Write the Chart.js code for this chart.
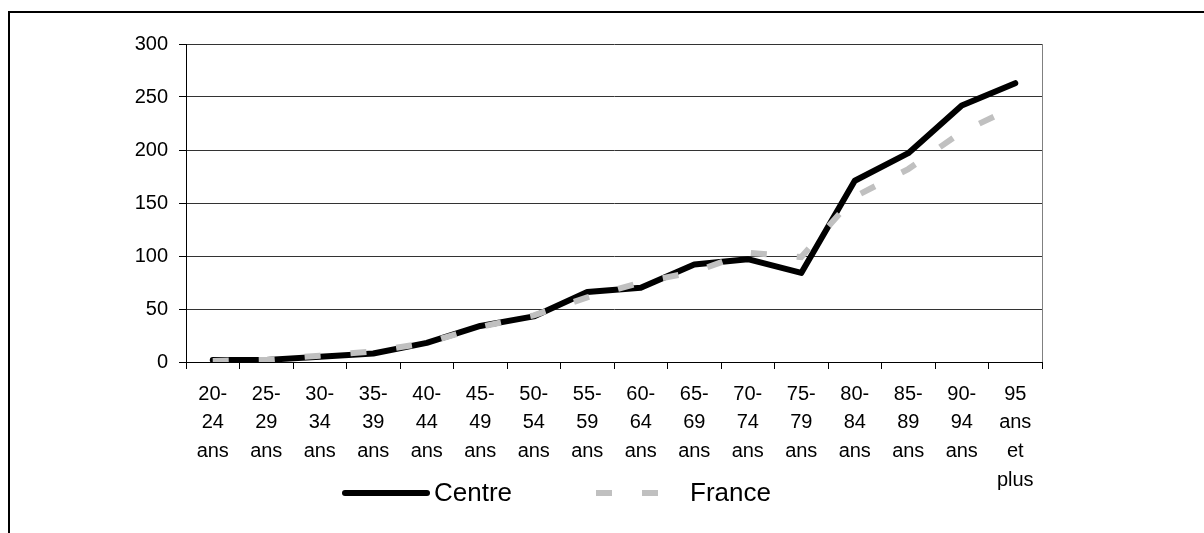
<!DOCTYPE html>
<html>
<head>
<meta charset="utf-8">
<script src="https://cdn.jsdelivr.net/npm/chart.js@4"></script>
<style>
  html, body { margin: 0; padding: 0; background: #fff; }
  #wrap { position: relative; width: 1204px; height: 533px; overflow: hidden; }
  #frame { position: absolute; left: 8px; top: 11px; width: 1300px; height: 600px;
           border-left: 2px solid #000; border-top: 2px solid #000; }
  canvas { position: absolute; left: 0; top: 0; }
</style>
</head>
<body>
<div id="wrap">
  <div id="frame"></div>
  <canvas id="chart" width="1204" height="533"></canvas>
</div>
<script>
// Age groups (multi-line tick labels)
const ageGroups = [
  ['20-', '24', 'ans'], ['25-', '29', 'ans'], ['30-', '34', 'ans'], ['35-', '39', 'ans'],
  ['40-', '44', 'ans'], ['45-', '49', 'ans'], ['50-', '54', 'ans'], ['55-', '59', 'ans'],
  ['60-', '64', 'ans'], ['65-', '69', 'ans'], ['70-', '74', 'ans'], ['75-', '79', 'ans'],
  ['80-', '84', 'ans'], ['85-', '89', 'ans'], ['90-', '94', 'ans'], ['95', 'ans', 'et', 'plus']
];

const centreValues = [2, 2, 5, 8, 18, 34, 43, 66, 70, 92, 97, 84, 171, 197, 242, 263];
const franceValues = [1, 2, 6, 10, 18, 33, 44, 61, 75, 85, 103, 99, 156, 182, 217, 241];

const yTicks = [0, 50, 100, 150, 200, 250, 300];

const FONT = "'Liberation Sans', Arial, sans-serif";

// custom legend + right plot border
const extras = {
  id: 'extras',
  beforeDatasetsDraw(chart) {
    const { ctx, chartArea } = chart;
    ctx.save();
    ctx.strokeStyle = '#808080';
    ctx.lineWidth = 1;
    ctx.beginPath();
    ctx.moveTo(Math.round(chartArea.right) + 0.5, chartArea.top);
    ctx.lineTo(Math.round(chartArea.right) + 0.5, chartArea.bottom);
    ctx.stroke();
    ctx.restore();
  },
  afterDraw(chart) {
    const { ctx } = chart;
    const y = 493;
    const items = [
      { ds: chart.data.datasets[0], x0: 345, x1: 427, tx: 434 },
      { ds: chart.data.datasets[1], x0: 596, x1: 686, tx: 690 }
    ];
    items.forEach(it => {
      ctx.save();
      ctx.strokeStyle = it.ds.borderColor;
      ctx.lineWidth = 6;
      ctx.lineCap = it.ds.borderCapStyle || 'butt';
      ctx.setLineDash(it.ds.borderDash || []);
      ctx.beginPath();
      ctx.moveTo(it.x0, y);
      ctx.lineTo(it.x1, y);
      ctx.stroke();
      ctx.restore();
      ctx.save();
      ctx.fillStyle = '#000';
      ctx.font = '26px ' + FONT;
      ctx.textBaseline = 'middle';
      ctx.fillText(it.ds.label, it.tx, y + 1);
      ctx.restore();
    });
  }
};

new Chart(document.getElementById('chart'), {
  type: 'line',
  data: {
    labels: ageGroups,
    datasets: [
      {
        label: 'Centre',
        data: centreValues,
        borderColor: '#000',
        borderWidth: 6,
        borderCapStyle: 'round',
        borderJoinStyle: 'round',
        pointRadius: 0,
        tension: 0,
        order: 1
      },
      {
        label: 'France',
        data: franceValues,
        borderColor: '#c0c0c0',
        borderWidth: 6,
        borderDash: [16, 30],
        borderCapStyle: 'butt',
        pointRadius: 0,
        tension: 0,
        order: 0
      }
    ]
  },
  options: {
    responsive: false,
    animation: false,
    layout: { padding: { left: 0, top: 44, right: 162, bottom: 0 } },
    plugins: {
      legend: { display: false },
      tooltip: { enabled: false }
    },
    scales: {
      x: {
        offset: true,
        afterFit: s => { s.height = 171; },
        grid: { offset: true, drawOnChartArea: false, drawTicks: true, tickLength: 7, color: '#000' },
        border: { color: '#000', width: 1 },
        ticks: {
          autoSkip: false, maxRotation: 0, minRotation: 0, padding: 11,
          color: '#000', font: { family: FONT, size: 20, lineHeight: 1.43 }
        }
      },
      y: {
        min: 0,
        max: 300,
        afterFit: s => { s.width = 186; },
        afterBuildTicks: s => { s.ticks = yTicks.map(v => ({ value: v })); },
        grid: { color: '#333', lineWidth: 1, drawTicks: true, tickLength: 7, tickColor: '#000' },
        border: { color: '#000', width: 1 },
        ticks: { padding: 11, color: '#000', font: { family: FONT, size: 20 } }
      }
    }
  },
  plugins: [extras]
});
</script>
</body>
</html>
